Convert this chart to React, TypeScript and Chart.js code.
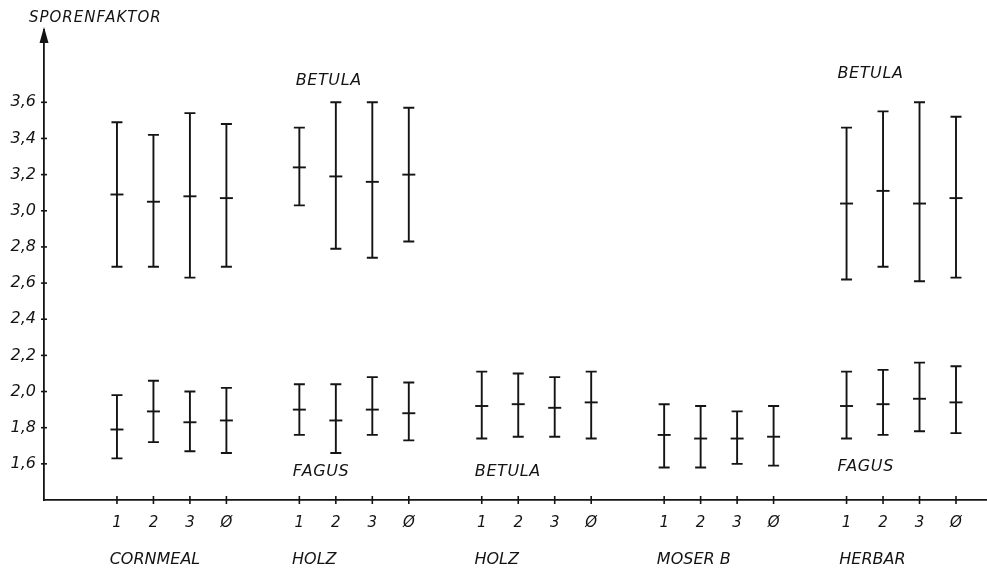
import React, { useEffect, useRef } from 'react';
import { Chart, registerables } from 'chart.js';

Chart.register(...registerables);

const groupNames = ['CORNMEAL', 'HOLZ', 'HOLZ', 'MOSER B', 'HERBAR'];
const sampleLabels = ['1', '2', '3', 'Ø'];
const yTickValues = [1.6, 1.8, 2.0, 2.2, 2.4, 2.6, 2.8, 3.0, 3.2, 3.4, 3.6];
const yAxisTitle = 'SPORENFAKTOR';

// upper series (BETULA), 4 samples per group, null where absent
const upperMean = [3.09, 3.05, 3.08, 3.07, 3.24, 3.19, 3.16, 3.2, null, null, null, null, null, null, null, null, 3.04, 3.11, 3.04, 3.07];
const upperLow = [2.69, 2.69, 2.63, 2.69, 3.03, 2.79, 2.74, 2.83, null, null, null, null, null, null, null, null, 2.62, 2.69, 2.61, 2.63];
const upperHigh = [3.49, 3.42, 3.54, 3.48, 3.46, 3.6, 3.6, 3.57, null, null, null, null, null, null, null, null, 3.46, 3.55, 3.6, 3.52];

// lower series (FAGUS / BETULA / MOSER B / FAGUS)
const lowerMean = [1.79, 1.89, 1.83, 1.84, 1.9, 1.84, 1.9, 1.88, 1.92, 1.93, 1.91, 1.94, 1.76, 1.74, 1.74, 1.75, 1.92, 1.93, 1.96, 1.94];
const lowerLow = [1.63, 1.72, 1.67, 1.66, 1.76, 1.66, 1.76, 1.73, 1.74, 1.75, 1.75, 1.74, 1.58, 1.58, 1.6, 1.59, 1.74, 1.76, 1.78, 1.77];
const lowerHigh = [1.98, 2.06, 2.0, 2.02, 2.04, 2.04, 2.08, 2.05, 2.11, 2.1, 2.08, 2.11, 1.93, 1.92, 1.89, 1.92, 2.11, 2.12, 2.16, 2.14];

// species annotations (data coordinates)
const speciesLabels = ['BETULA', 'FAGUS', 'BETULA', 'BETULA', 'FAGUS'];
const speciesX = [4.9, 4.82, 9.81, 19.75, 19.75];
const speciesY = [3.72, 1.557, 1.557, 3.76, 1.585];

const INK = '#141414';
const FONT = '"DejaVu Sans", "Liberation Sans", sans-serif';

const positionOf = (i: number) => Math.floor(i / 4) * 5 + (i % 4);
const xPositions = lowerMean.map((_, i) => positionOf(i));

export default function App() {
  const ref = useRef<HTMLCanvasElement | null>(null);

  useEffect(() => {
    if (!ref.current) return;

    const decor = {
      id: 'decor',
      afterDatasetsDraw(chart: any) {
        const ctx = chart.ctx;
        const xs = chart.scales.x;
        const ys = chart.scales.y;
        const area = chart.chartArea;
        ctx.save();
        ctx.strokeStyle = INK;
        ctx.fillStyle = INK;
        ctx.lineWidth = 1.9;

        const drawRange = (lows: (number | null)[], highs: (number | null)[]) => {
          lows.forEach((lo, i) => {
            const hi = highs[i];
            if (lo == null || hi == null) return;
            const x = xs.getPixelForValue(xPositions[i]);
            const y1 = ys.getPixelForValue(lo);
            const y2 = ys.getPixelForValue(hi);
            ctx.beginPath();
            ctx.moveTo(x, y1);
            ctx.lineTo(x, y2);
            ctx.moveTo(x - 5.5, y1);
            ctx.lineTo(x + 5.5, y1);
            ctx.moveTo(x - 5.5, y2);
            ctx.lineTo(x + 5.5, y2);
            ctx.stroke();
          });
        };
        drawRange(upperLow, upperHigh);
        drawRange(lowerLow, lowerHigh);

        // tick crosses on axes
        ctx.lineWidth = 1.6;
        yTickValues.forEach((v) => {
          const y = ys.getPixelForValue(v);
          ctx.beginPath();
          ctx.moveTo(area.left - 3, y);
          ctx.lineTo(area.left + 3, y);
          ctx.stroke();
        });
        xPositions.forEach((p) => {
          const x = xs.getPixelForValue(p);
          ctx.beginPath();
          ctx.moveTo(x, area.bottom - 4);
          ctx.lineTo(x, area.bottom + 4);
          ctx.stroke();
        });

        // arrow at top of y axis
        const ax = area.left;
        const top = area.top;
        ctx.beginPath();
        ctx.moveTo(ax, top - 3);
        ctx.lineTo(ax - 4.5, top + 13);
        ctx.lineTo(ax + 4.5, top + 13);
        ctx.closePath();
        ctx.fill();

        // texts
        ctx.textBaseline = 'middle';
        ctx.textAlign = 'left';
        ctx.font = `oblique 15px ${FONT}`;
        try { ctx.letterSpacing = '1px'; } catch (e) {}
        ctx.fillText(yAxisTitle, 29, 18);

        ctx.font = `oblique 16px ${FONT}`;
        try { ctx.letterSpacing = '0.6px'; } catch (e) {}
        speciesLabels.forEach((t, i) => {
          ctx.fillText(t, xs.getPixelForValue(speciesX[i]), ys.getPixelForValue(speciesY[i]));
        });

        try { ctx.letterSpacing = '0px'; } catch (e) {}
        groupNames.forEach((g, i) => {
          ctx.fillText(g, xs.getPixelForValue(i * 5 - 0.2), 560);
        });
        ctx.restore();
      },
    };

    const meanStyle = {
      showLine: false,
      pointStyle: 'line',
      pointRadius: 6.5,
      pointBorderWidth: 1.9,
      borderColor: INK,
      backgroundColor: INK,
    };

    const chart = new Chart(ref.current, {
      type: 'scatter',
      data: {
        datasets: [
          {
            label: 'upper',
            data: upperMean
              .map((v, i) => (v == null ? null : { x: xPositions[i], y: v }))
              .filter((d) => d !== null) as any,
            ...meanStyle,
          } as any,
          {
            label: 'lower',
            data: lowerMean.map((v, i) => ({ x: xPositions[i], y: v })),
            ...meanStyle,
          } as any,
        ],
      },
      options: {
        animation: false,
        responsive: false,
        events: [],
        layout: { autoPadding: false, padding: { top: 30, right: 0, left: 0, bottom: 0 } },
        plugins: {
          legend: { display: false },
          tooltip: { enabled: false },
          title: { display: false },
        },
        scales: {
          x: {
            type: 'linear',
            position: 'bottom',
            min: -2,
            max: 23.85,
            afterBuildTicks: (scale: any) => {
              scale.ticks = xPositions.map((v) => ({ value: v }));
            },
            afterFit: (scale: any) => {
              scale.height = 69;
              scale.paddingLeft = 0;
              scale.paddingRight = 0;
            },
            ticks: {
              autoSkip: false,
              maxRotation: 0,
              padding: 14,
              color: INK,
              font: { family: FONT, size: 15, style: 'oblique' },
              callback: (v: any) => sampleLabels[Math.round(Number(v)) % 5] ?? '',
            },
            grid: { display: false, drawTicks: false },
            border: { display: true, color: INK, width: 1.8 },
          },
          y: {
            type: 'linear',
            min: 1.4,
            max: 4.0,
            afterBuildTicks: (scale: any) => {
              scale.ticks = yTickValues.map((v) => ({ value: v }));
            },
            afterFit: (scale: any) => {
              scale.width = 44;
              scale.paddingTop = 0;
              scale.paddingBottom = 0;
            },
            ticks: {
              padding: 8,
              color: INK,
              font: { family: FONT, size: 16, style: 'oblique' },
              callback: (v: any) => Number(v).toFixed(1).replace('.', ','),
            },
            grid: { display: false, drawTicks: false },
            border: { display: true, color: INK, width: 1.8 },
          },
        },
      } as any,
      plugins: [decor],
    });

    return () => chart.destroy();
  }, []);

  return (
    <div style={{ position: 'fixed', left: 0, top: 0, width: 987, height: 569, background: '#fff' }}>
      <canvas ref={ref} width={987} height={569} style={{ display: 'block' }} />
    </div>
  );
}
